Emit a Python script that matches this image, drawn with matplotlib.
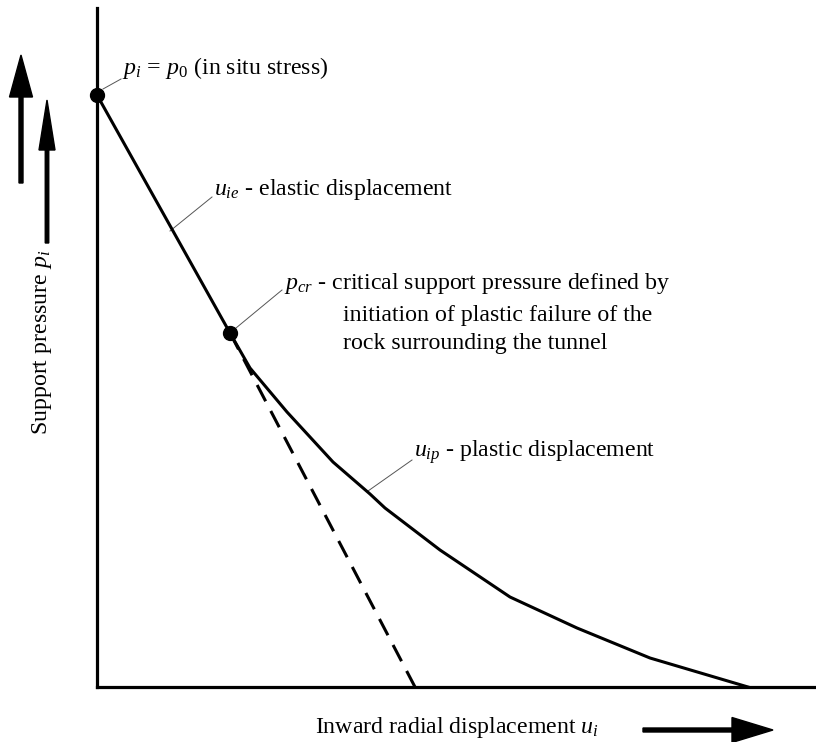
import matplotlib
matplotlib.use("Agg")
import matplotlib.pyplot as plt
import matplotlib.patches as mpatches

plt.rcParams['font.family'] = ['Liberation Serif', 'DejaVu Serif']
plt.rcParams['mathtext.fontset'] = 'custom'
plt.rcParams['mathtext.rm'] = 'Liberation Serif'
plt.rcParams['mathtext.it'] = 'Liberation Serif:italic'
plt.rcParams['mathtext.bf'] = 'Liberation Serif:bold'

# Ground reaction curve (schematic units)
p0 = 592
elastic_x = [0, 133]
elastic_y = [p0, 354]
pcr_x, pcr_y = 133, 354
dashed_x = [133, 318]
dashed_y = [354, 0]
plastic_x = [133, 153, 190, 236, 273, 288, 343, 413, 480, 553, 651]
plastic_y = [354, 319, 275, 225, 193, 179, 137, 90, 59, 29, 0]

W, H = 816, 742
fig = plt.figure(figsize=(W / 100, H / 100), dpi=100)
ax = fig.add_axes([97 / W, (H - 687) / H, 1 - 97 / W, (687 - 8) / H])
ax.set_xlim(0, 719)
ax.set_ylim(0, 679)
for s in ['top', 'right']:
    ax.spines[s].set_visible(False)
for s in ['left', 'bottom']:
    ax.spines[s].set_linewidth(2.3)
ax.set_xticks([])
ax.set_yticks([])

lw = 2.2
ax.plot(elastic_x, elastic_y, color='black', lw=lw, solid_capstyle='butt', zorder=3)
ax.plot(plastic_x, plastic_y, color='black', lw=lw, zorder=3, solid_joinstyle='round')
ax.plot(dashed_x, dashed_y, color='black', lw=lw, dashes=(6, 3.6), zorder=3)
ax.plot([0, pcr_x], [p0, pcr_y], linestyle='none', marker='o', markersize=10,
        color='black', zorder=4, clip_on=False)

fs = 17.2
thin = dict(color='#555555', lw=0.7)


def px(x, y):
    return x - 97, 687 - y

# annotations with leader lines
ax.plot(*zip(px(103, 89), px(121, 79)), **thin)
ax.text(*px(122, 68), r'$p_i\,=\,p_{\mathit{0}}$ (in situ stress)', fontsize=fs,
        va='center', ha='left')

ax.plot(*zip(px(170, 231), px(212, 197)), **thin)
ax.text(*px(214, 190), r'$u_{ie}$ - elastic displacement', fontsize=fs,
        va='center', ha='left')

ax.plot(*zip(px(236, 328), px(282, 290)), **thin)
ax.text(*px(284, 283), r'$p_{cr}$ - critical support pressure defined by', fontsize=fs,
        va='center', ha='left')
ax.text(*px(343, 315), 'initiation of plastic failure of the', fontsize=fs,
        va='center', ha='left')
ax.text(*px(343, 343), 'rock surrounding the tunnel', fontsize=fs,
        va='center', ha='left')

ax.plot(*zip(px(368, 491), px(412, 460)), **thin)
ax.text(*px(414, 452), r'$u_{ip}$ - plastic displacement', fontsize=fs,
        va='center', ha='left')

# axis labels
fig.text(42 / W, 1 - 342 / H, r'Support pressure $p_i$', rotation=90, fontsize=fs,
         va='center', ha='center')
fig.text(457 / W, 1 - 728 / H, r'Inward radial displacement $u_i$', fontsize=fs,
         va='center', ha='center')


def arrow(x0, y0, x1, y1, w, hw, hl):
    a = mpatches.FancyArrow(x0 / 100, (H - y0) / 100, (x1 - x0) / 100, -(y1 - y0) / 100,
                            width=w / 100, head_width=hw / 100, head_length=hl / 100,
                            length_includes_head=True, color='black',
                            transform=fig.dpi_scale_trans)
    fig.add_artist(a)

arrow(21, 183, 21, 55, 4, 23, 42)
arrow(47, 243, 47, 100, 3.5, 16, 50)
arrow(643, 730, 773, 730, 4, 25, 41)

fig.savefig('out.png', dpi=100, facecolor='white')
